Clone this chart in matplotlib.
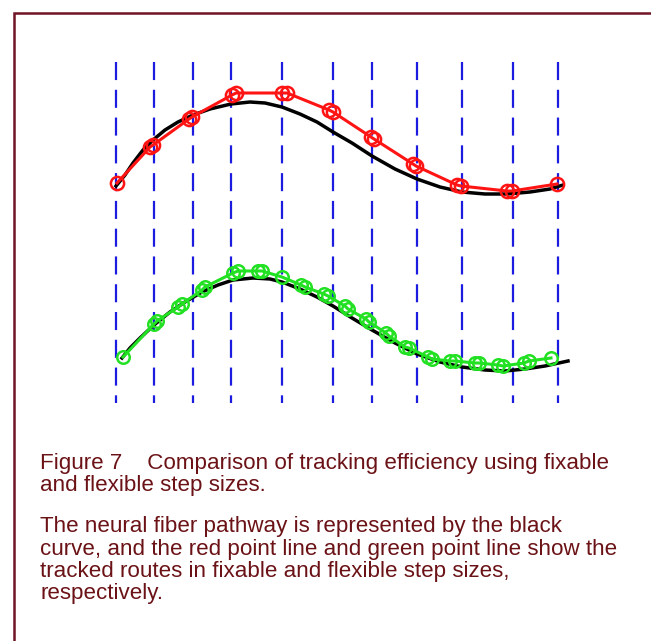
import matplotlib
matplotlib.use('Agg')
import matplotlib.pyplot as plt

plt.rcParams['font.family'] = ['Liberation Sans', 'DejaVu Sans']
plt.rcParams['lines.scale_dashes'] = False

# ── DATA (in pixel-like units, y grows downwards) ──
grid_x = [116, 154, 193, 231, 282, 333, 372, 417, 462, 513, 558]

path_top_x = [116, 125, 133, 143, 153, 165, 178, 193, 210, 231, 250, 265, 282,
              300, 317, 333, 352, 372, 395, 417, 440, 462, 485, 507, 530, 550, 563]
path_top_y = [186, 175, 163, 150, 140, 130, 122, 115, 109, 104, 102, 103, 107,
              114, 122, 132, 143, 156, 169, 179, 187, 192, 194, 194, 192, 189, 185]

path_bot_x = [122, 130, 140, 154, 170, 185, 202, 218, 233, 253, 270, 282, 300,
              317, 333, 352, 372, 395, 417, 440, 462, 485, 505, 525, 545, 568]
path_bot_y = [358, 348, 338, 325, 312, 302, 292, 285, 280, 278, 279, 282, 289,
              297, 306, 318, 330, 343, 354, 362, 367, 370, 371, 369, 366, 361]

red_x = [117, 150, 153, 189, 192, 232, 236, 282, 287, 329, 333, 371, 374,
         413, 416, 457, 461, 507, 512, 557]
red_y = [183, 147, 145, 119, 117, 95, 93, 93, 93, 110, 112, 137, 139,
         164, 166, 185, 186, 191, 191, 184]

green_x = [123, 154, 157, 178, 182, 202, 205, 233, 238, 258, 262, 282, 301, 305,
           324, 328, 345, 348, 366, 369, 386, 389, 405, 409, 428, 432, 450, 455,
           475, 479, 498, 503, 524, 529, 551]
green_y = [357, 324, 321, 307, 304, 290, 287, 273, 271, 271, 271, 277, 285, 287,
           294, 296, 306, 309, 319, 322, 333, 336, 347, 348, 357, 359, 361, 361,
           363, 363, 365, 366, 363, 361, 358]

caption_lines = [
    "Figure 7    Comparison of tracking efficiency using fixable",
    "and flexible step sizes.",
    "The neural fiber pathway is represented by the black",
    "curve, and the red point line and green point line show the",
    "tracked routes in fixable and flexible step sizes,",
    "respectively.",
]
caption_baselines = [469, 491, 532, 555, 577, 599]

# ── FIGURE ──────────────────────────────────────────────
W, H = 651, 641
fig = plt.figure(figsize=(W / 100, H / 100), dpi=100)
ax = fig.add_axes([0, 0, 1, 1])
ax.set_xlim(0, W)
ax.set_ylim(H, 0)
ax.axis('off')

# frame (open on the right and bottom)
ax.plot([14, 14, W + 5], [H + 5, 13, 13], color='#6e1424', lw=1.8,
        solid_joinstyle='miter')

# blue dashed step grid
ax.vlines(grid_x, 62, 403, colors='#1c1ce0', lw=1.6, linestyles=(0, (13, 7)))

# true fiber pathway
ax.plot(path_top_x, path_top_y, color='black', lw=2.5, zorder=3)
ax.plot(path_bot_x, path_bot_y, color='black', lw=2.5, zorder=3)

# tracked routes
ax.plot(red_x, red_y, color='#ff1414', lw=2.2, marker='o', ms=9.5,
        mfc='none', mec='#ff1414', mew=1.8, zorder=4)
ax.plot(green_x, green_y, color='#22e022', lw=2.2, marker='o', ms=9,
        mfc='none', mec='#22e022', mew=1.8, zorder=4)

txt_color = '#6b1216'
for line, yb in zip(caption_lines, caption_baselines):
    ax.text(40, yb, line, fontsize=16.1, color=txt_color,
            va='baseline', ha='left')

fig.savefig('out.png', dpi=100, facecolor='white')
